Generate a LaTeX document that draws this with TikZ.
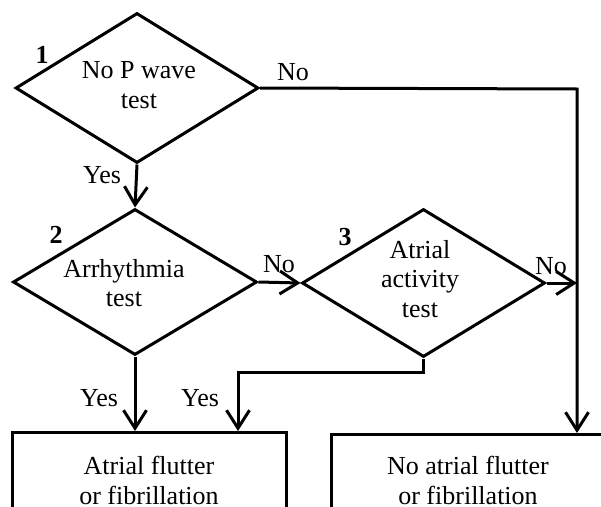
\documentclass[tikz,border=0pt]{standalone}
\usepackage{fontspec}
\setmainfont{Liberation Serif}
\usetikzlibrary{shapes.geometric,arrows.meta}
\begin{document}
\begin{tikzpicture}[x=1pt,y=-1pt,
  every node/.style={font=\fontsize{26}{29.5}\selectfont},
  dec/.style={draw,shape=diamond,line width=3pt,inner sep=0pt,aspect=1.62},
  dectext/.style={inner sep=0pt,align=center},
  outbox/.style={draw,rectangle,line width=3pt,inner sep=0pt,align=center,anchor=north},
  lbl/.style={inner sep=0pt},
  num/.style={inner sep=0pt,font=\fontsize{26}{29.5}\selectfont\bfseries},
  arr/.style={line width=3pt,-{Straight Barb[length=18pt,width=23pt,line width=3pt]}}]
\clip (0,0) rectangle (601,506);
\useasboundingbox (0,0) rectangle (601,506);
% decisions
\node[dec,minimum width=243pt,minimum height=150pt] (d1) at (137,88) {};
\node[dec,minimum width=244pt,minimum height=146pt] (d2) at (135,282) {};
\node[dec,minimum width=243pt,minimum height=148pt] (d3) at (423.5,283) {};
\node[dectext] (t1) at (139,85) {No P wave\\test};
\node[dectext] (t2) at (124,283) {Arrhythmia\\test};
\node[dectext] (t3) at (420,279) {Atrial\\activity\\test};
% outcome boxes
\node[outbox,minimum width=274pt,minimum height=96pt] (b1) at (149,431) {Atrial flutter\\or fibrillation};
\node[outbox,minimum width=274pt,minimum height=92pt] (b2) at (468,433) {No atrial flutter\\or fibrillation};
% numbers
\node[num] (n1) at (42,55) {1};
\node[num] (n2) at (56,235) {2};
\node[num] (n3) at (345,237) {3};
% connectors
\coordinate (r1) at (577,89);
\coordinate (k) at (238,372);
\draw[arr] (d1.south) -- (d2.north);
\draw[arr] (d1.east) -- (r1) -- (r1 |- b2.north);
\draw[arr] (d2.east) -- (d3.west);
\draw[arr] (d3.east) -- (d3.east -| r1);
\draw[arr] (d3.south) |- (k) -- (k |- b1.north);
\draw[arr] (d2.south) -- (d2.south |- b1.north);
% labels
\node[lbl] (l1) at (293,72) {No};
\node[lbl] (l2) at (102,175) {Yes};
\node[lbl] (l3) at (279,264) {No};
\node[lbl] (l4) at (551,266) {No};
\node[lbl] (l5) at (99,398) {Yes};
\node[lbl] (l6) at (200,398) {Yes};
\end{tikzpicture}
\end{document}
